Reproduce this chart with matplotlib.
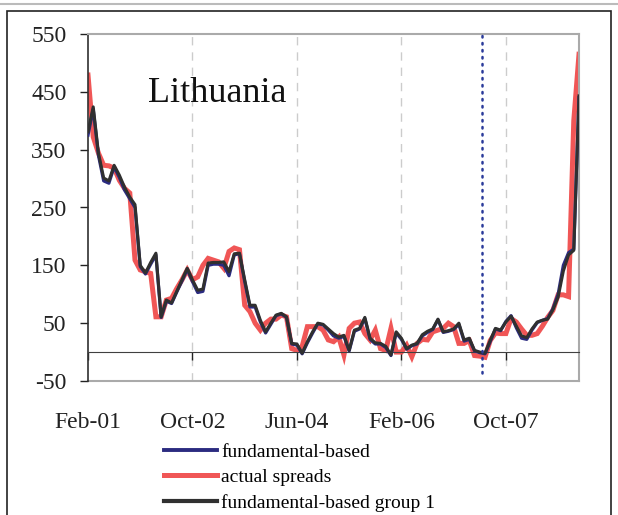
import numpy as np
import matplotlib.pyplot as plt
from matplotlib.lines import Line2D
from matplotlib.patches import Rectangle

plt.rcParams["font.family"] = ["Liberation Serif", "DejaVu Serif"]
plt.rcParams["axes.unicode_minus"] = False

# monthly observations, Feb-01 .. Dec-08
actual = [479, 372, 344, 323, 322, 318, 297, 283, 275, 159,
          142, 139, 136, 61, 61, 90, 93, 110, 125, 142,
          125, 130, 150, 162, 159, 156, 145, 174, 180, 177,
          81, 70, 50, 38, 50, 57, 57, 64, 61, 6,
          3, 10, 44, 44, 44, 38, 21, 18, 26, -5,
          41, 50, 52, 32, 21, 38, 6, 3, 41, 0,
          0, 12, -8, 15, 22, 21, 35, 38, 41, 50,
          44, 15, 15, 20, -6, -7, -9, 20, 33, 32,
          32, 58, 52, 40, 29, 29, 32, 45, 60, 72,
          99, 99, 96, 400, 515]
group1 = [381, 424, 344, 301, 296, 323, 306, 285, 268, 255,
          150, 137, 155, 171, 61, 90, 85, 105, 125, 145,
          125, 107, 109, 154, 155, 155, 156, 139, 170, 171,
          125, 81, 81, 55, 35, 50, 64, 67, 61, 15,
          14, -2, 18, 35, 50, 48, 40, 32, 26, 29,
          3, 38, 41, 60, 24, 16, 15, 10, -5, 35,
          24, 6, 12, 15, 30, 36, 40, 57, 35, 37,
          40, 50, 21, 24, 3, 0, -2, 20, 41, 38,
          52, 62, 45, 28, 25, 40, 52, 55, 57, 73,
          95, 140, 168, 176, 443]
fundamental = [375, 420, 340, 296, 292, 320, 302, 280, 265, 250,
               148, 135, 152, 168, 60, 88, 84, 104, 123, 143,
               122, 103, 105, 150, 152, 152, 150, 132, 168, 170,
               122, 78, 78, 52, 33, 48, 63, 66, 60, 14,
               12, -3, 16, 33, 49, 47, 38, 28, 24, 27,
               2, 36, 40, 58, 22, 14, 14, 8, -6, 33,
               22, 5, 11, 14, 28, 34, 39, 56, 34, 36,
               39, 48, 19, 22, 2, -1, -3, 18, 40, 37,
               53, 63, 42, 24, 22, 38, 51, 55, 58, 75,
               100, 150, 172, 178, 440]

xtick_pos = [0, 20, 40, 60, 80]
xtick_labels = ["Feb-01", "Oct-02", "Jun-04", "Feb-06", "Oct-07"]
ytick_vals = [-50, 50, 150, 250, 350, 450, 550]
event_x = 75.4

x = np.arange(len(actual))

fig = plt.figure(figsize=(6.18, 5.15), dpi=100)
ax = fig.add_axes([88 / 618, 1 - 381 / 515, 491 / 618, 347 / 515])

# outer frame of the exhibit
fig.add_artist(Line2D([0, 1], [1 - 4 / 515, 1 - 4 / 515], color="#bbbbbb", lw=1.5))
fig.add_artist(Rectangle((7 / 618, -0.05), 604 / 618, 1.05 - 11 / 515,
                         fill=False, edgecolor="#222222", lw=1.2))

for gx in xtick_pos[1:]:
    ax.axvline(gx, color="#cccccc", lw=1, ls=(0, (6, 5)), zorder=0)

ax.plot(x, actual, color="#f05656", lw=3.6, zorder=2, solid_joinstyle="miter")
ax.plot(x, fundamental, color="#2b2b80", lw=2.3, zorder=3)
ax.plot(x, group1, color="#303030", lw=2.2, zorder=4)

ax.plot([event_x, event_x], [-37, 553], color="#2a3a9a", lw=1.8,
        ls=(0, (0.6, 2.2)), dash_capstyle="round", clip_on=False, zorder=5)

ax.set_xlim(0, 94)
ax.set_ylim(-50, 550)

ax.set_yticks(ytick_vals)
ax.set_yticklabels([str(v) for v in ytick_vals])
ax.set_xticks(xtick_pos)
ax.set_xticklabels(xtick_labels)

ax.spines["bottom"].set_position(("data", 0))
ax.spines["bottom"].set_color("#404040")
ax.spines["left"].set_color("#303030")
ax.spines["left"].set_linewidth(1.2)
for s in ("top", "right"):
    ax.spines[s].set_color("#aaaaaa")
    ax.spines[s].set_linewidth(1.5)
ax.plot([0, 1], [0, 0], transform=ax.transAxes, color="#aaaaaa", lw=1.5,
        clip_on=False, zorder=1)

ax.tick_params(axis="y", direction="out", length=6, width=1, pad=9.5,
               labelsize=17, colors="#222222")
ax.tick_params(axis="x", direction="out", length=6, width=1, pad=37,
               labelsize=17, colors="#222222")

ax.text(0.122, 0.804, "Lithuania", transform=ax.transAxes, fontsize=26,
        va="baseline", ha="left", color="#111111")

handles = [
    Line2D([], [], color="#2b2b80", lw=2.8),
    Line2D([], [], color="#f05656", lw=3.6),
    Line2D([], [], color="#303030", lw=3.0),
]
labels = ["fundamental-based", "actual spreads", "fundamental-based group 1"]
fig.legend(handles, labels, loc="upper left", bbox_to_anchor=(164 / 618, 1 - 443 / 515),
           frameon=False, fontsize=14, handlelength=2.7, handletextpad=0.25,
           labelspacing=0.4, borderpad=0, borderaxespad=0)

fig.savefig("out.png", dpi=100)
